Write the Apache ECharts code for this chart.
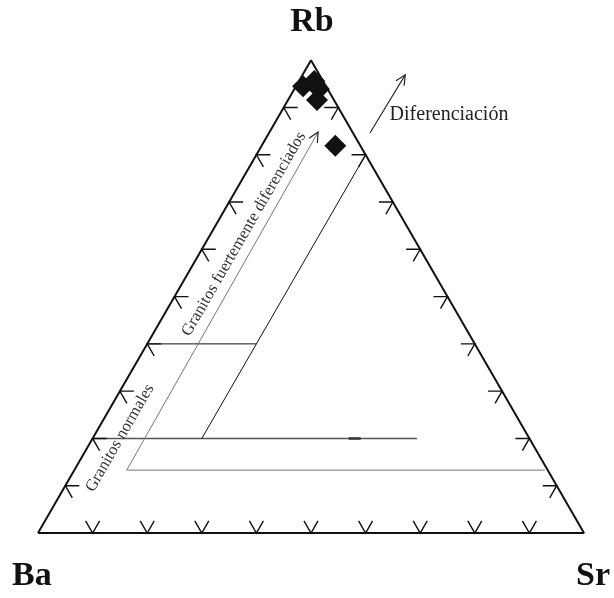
<!DOCTYPE html>
<html>
<head>
<meta charset="utf-8">
<script src="https://cdn.jsdelivr.net/npm/echarts@6/dist/echarts.min.js"></script>
<style>
  html, body { margin: 0; padding: 0; background: #fff; }
  #chart { width: 614px; height: 598px; }
</style>
</head>
<body>
<div id="chart"></div>
<script>
// ternary Rb - Ba - Sr, values in %
const tickSteps = [10, 20, 30, 40, 50, 60, 70, 80, 90];

const sampleRb = [94.5, 95.6, 93.9, 91.6, 81.9];
const sampleSr = [1.3, 2.8, 4.5, 5.3, 13.5];

// lines as [Rb, Sr] pairs
const outline = [[0, 0], [0, 100], [100, 0], [0, 0]];
const lineRb40 = [[40, 0], [40, 20]];
const lineRb20 = [[20, 0], [20, 59.4]];
const lineRb20Mark = [[20, 46.9], [20, 49.1]];
const lineSr20 = [[20, 20], [80, 20]];
const lineNormales = [[13.3, 86.2], [13.3, 9.6], [84.8, 8.9]];
const arrowDif = [[84.6, 18.5], [96.9, 18.8]];

// Rb up, Ba left, Sr right
function toXY(p) {
    return [p[1] + p[0] / 2, p[0]];
}

// tick points: [edge, x, y]  edge 0 = bottom, 1 = left, 2 = right
const tickData = [];
tickSteps.forEach(function (t) {
    tickData.push([0].concat(toXY([0, t])));
    tickData.push([1].concat(toXY([t, 0])));
    tickData.push([2].concat(toXY([t, 100 - t])));
});

const normals = [[0, 1], [-0.866, -0.5], [0.866, -0.5]];

function renderTick(params, api) {
    const n = normals[api.value(0)];
    const p = api.coord([api.value(1), api.value(2)]);
    const len = 14;
    const bx = -n[0], by = -n[1];
    const c = Math.cos(Math.PI / 6), s = Math.sin(Math.PI / 6);
    const a1 = [p[0] + len * (bx * c - by * s), p[1] + len * (bx * s + by * c)];
    const a2 = [p[0] + len * (bx * c + by * s), p[1] + len * (-bx * s + by * c)];
    return {
        type: 'polyline',
        shape: { points: [a1, p, a2] },
        style: { stroke: '#111', lineWidth: 1.4, fill: null }
    };
}

function renderArrow(params, api) {
    const p1 = api.coord([api.value(0), api.value(1)]);
    const p2 = api.coord([api.value(2), api.value(3)]);
    const ang = Math.atan2(p1[1] - p2[1], p1[0] - p2[0]);
    const len = 11, spread = 0.45;
    const h1 = [p2[0] + len * Math.cos(ang + spread), p2[1] + len * Math.sin(ang + spread)];
    const h2 = [p2[0] + len * Math.cos(ang - spread), p2[1] + len * Math.sin(ang - spread)];
    const children = [{
        type: 'polyline',
        shape: { points: [h1, p2, h2] },
        style: { stroke: '#222', lineWidth: 1.2, fill: null }
    }];
    if (api.value(4)) {
        children.push({
            type: 'line',
            shape: { x1: p1[0], y1: p1[1], x2: p2[0], y2: p2[1] },
            style: { stroke: '#222', lineWidth: 1.1 }
        });
    }
    return { type: 'group', children: children };
}

function lineSeries(pts, color, width) {
    return {
        type: 'line',
        data: pts.map(toXY),
        showSymbol: false,
        silent: true,
        lineStyle: { color: color, width: width },
        z: 2
    };
}

const nEnd = lineNormales.length;
const arrowData = [
    toXY(lineNormales[nEnd - 2]).concat(toXY(lineNormales[nEnd - 1]), [0]),
    toXY(arrowDif[0]).concat(toXY(arrowDif[1]), [1])
];

const chart = echarts.init(document.getElementById('chart'), null, { renderer: 'canvas' });

const serif = '"Liberation Serif", "Times New Roman", serif';

chart.setOption({
    animation: false,
    backgroundColor: '#fff',
    grid: { left: 38, top: 60.2, width: 546, height: 472.8 },
    xAxis: {
        type: 'value', min: 0, max: 100,
        axisLine: { show: false }, axisTick: { show: false },
        axisLabel: { show: false }, splitLine: { show: false }
    },
    yAxis: {
        type: 'value', min: 0, max: 100,
        axisLine: { show: false }, axisTick: { show: false },
        axisLabel: { show: false }, splitLine: { show: false }
    },
    graphic: [
        { type: 'text', x: 312, y: 5, style: { text: 'Rb', font: 'bold 34px ' + serif, fill: '#111', align: 'center', verticalAlign: 'top' } },
        { type: 'text', x: 12, y: 559, style: { text: 'Ba', font: 'bold 34px ' + serif, fill: '#111', align: 'left', verticalAlign: 'top' } },
        { type: 'text', x: 610, y: 559, style: { text: 'Sr', font: 'bold 34px ' + serif, fill: '#111', align: 'right', verticalAlign: 'top' } },
        { type: 'text', x: 449, y: 115, style: { text: 'Diferenciación', font: '20px ' + serif, fill: '#222', align: 'center', verticalAlign: 'middle' } },
        { type: 'text', x: 244, y: 234, rotation: Math.PI / 3, style: { text: 'Granitos fuertemente diferenciados', font: '16.5px ' + serif, fill: '#333', align: 'center', verticalAlign: 'middle' } },
        { type: 'text', x: 120, y: 438, rotation: Math.PI / 3, style: { text: 'Granitos normales', font: '16.5px ' + serif, fill: '#333', align: 'center', verticalAlign: 'middle' } }
    ],
    series: [
        lineSeries(outline, '#111', 2),
        lineSeries(lineRb40, '#111', 1),
        lineSeries(lineRb20, '#555', 1.4),
        lineSeries(lineRb20Mark, '#333', 2.4),
        lineSeries(lineSr20, '#111', 1),
        lineSeries(lineNormales, '#777', 1),
        {
            type: 'custom',
            renderItem: renderTick,
            data: tickData,
            silent: true,
            z: 3
        },
        {
            type: 'custom',
            renderItem: renderArrow,
            data: arrowData,
            silent: true,
            z: 3
        },
        {
            type: 'scatter',
            data: sampleRb.map(function (rb, i) { return toXY([rb, sampleSr[i]]); }),
            symbol: 'diamond',
            symbolSize: 22,
            itemStyle: { color: '#111', opacity: 1 },
            silent: true,
            z: 5
        }
    ]
});
</script>
</body>
</html>
